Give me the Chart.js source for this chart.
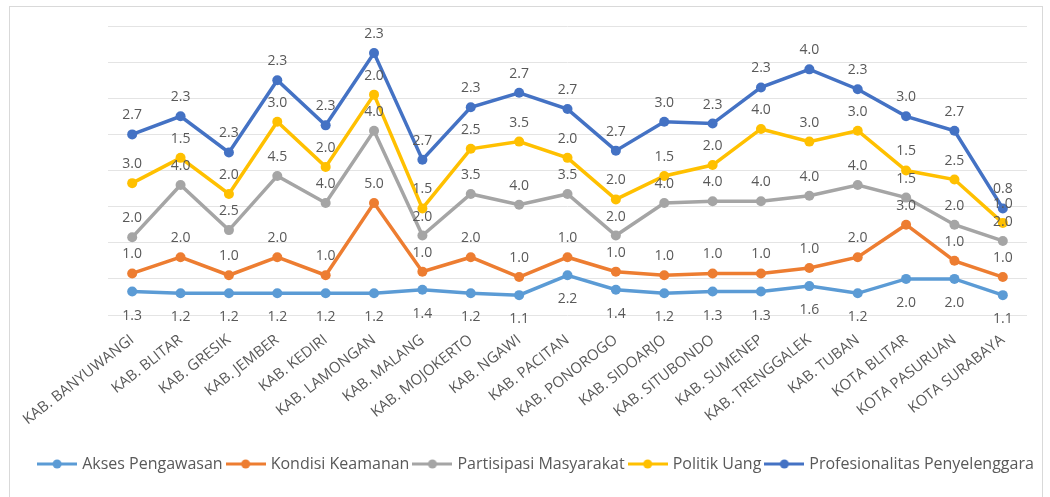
<!DOCTYPE html>
<html>
<head>
<meta charset="utf-8">
<script src="https://cdn.jsdelivr.net/npm/chart.js@4"></script>
<style>
  html, body { margin: 0; padding: 0; background: #fff; overflow: hidden; }
  #wrap { position: relative; width: 1050px; height: 497px; }
  #frame { position: absolute; left: 9px; top: 6px; width: 1032px; height: 520px; border: 1px solid #d9d9d9; pointer-events: none; }
</style>
</head>
<body>
<div id="wrap">
  <canvas id="myChart" width="1050" height="497"></canvas>
  <div id="frame"></div>
</div>
<script>
const categories = ['KAB. BANYUWANGI', 'KAB. BLITAR', 'KAB. GRESIK', 'KAB. JEMBER', 'KAB. KEDIRI', 'KAB. LAMONGAN',
    'KAB. MALANG', 'KAB. MOJOKERTO', 'KAB. NGAWI', 'KAB. PACITAN', 'KAB. PONOROGO', 'KAB. SIDOARJO',
    'KAB. SITUBONDO', 'KAB. SUMENEP', 'KAB. TRENGGALEK', 'KAB. TUBAN', 'KOTA BLITAR', 'KOTA PASURUAN', 'KOTA SURABAYA'];

const aksesPengawasan = [1.3, 1.2, 1.2, 1.2, 1.2, 1.2, 1.4, 1.2, 1.1, 2.2, 1.4, 1.2, 1.3, 1.3, 1.6, 1.2, 2.0, 2.0, 1.1];
const kondisiKeamanan = [1.0, 2.0, 1.0, 2.0, 1.0, 5.0, 1.0, 2.0, 1.0, 1.0, 1.0, 1.0, 1.0, 1.0, 1.0, 2.0, 3.0, 1.0, 1.0];
const partisipasiMasyarakat = [2.0, 4.0, 2.5, 4.5, 4.0, 4.0, 2.0, 3.5, 4.0, 3.5, 2.0, 4.0, 4.0, 4.0, 4.0, 4.0, 1.5, 2.0, 2.0];
const politikUang = [3.0, 1.5, 2.0, 3.0, 2.0, 2.0, 1.5, 2.5, 3.5, 2.0, 2.0, 1.5, 2.0, 4.0, 3.0, 3.0, 1.5, 2.5, 1.0];
const profesionalitas = [2.7, 2.3, 2.3, 2.3, 2.3, 2.3, 2.7, 2.3, 2.7, 2.7, 2.7, 3.0, 2.3, 2.3, 4.0, 2.3, 3.0, 2.7, 0.8];

const seriesNames = ['Akses Pengawasan', 'Kondisi Keamanan', 'Partisipasi Masyarakat', 'Politik Uang', 'Profesionalitas Penyelenggara'];
const seriesColors = ['#5B9BD5', '#ED7D31', '#A5A5A5', '#FFC000', '#4472C4'];
const seriesData = [aksesPengawasan, kondisiKeamanan, partisipasiMasyarakat, politikUang, profesionalitas];

const textColor = '#595959';
const fontFamily = '"Open Sans", "DejaVu Sans", sans-serif';

// legend marker: line with a dot in the middle
function legendMarker(color) {
    const c = document.createElement('canvas');
    c.width = 40;
    c.height = 12;
    const g = c.getContext('2d');
    g.strokeStyle = color;
    g.lineWidth = 3;
    g.beginPath();
    g.moveTo(0, 6);
    g.lineTo(40, 6);
    g.stroke();
    g.fillStyle = color;
    g.beginPath();
    g.arc(20, 6, 4.5, 0, Math.PI * 2);
    g.fill();
    return c;
}
const markers = seriesColors.map(legendMarker);

// value labels: first series below its point, the rest above
const valueLabels = {
    id: 'valueLabels',
    afterDatasetsDraw(chart) {
        const ctx = chart.ctx;
        ctx.save();
        ctx.font = '14px ' + fontFamily;
        ctx.fillStyle = textColor;
        ctx.textAlign = 'center';
        ctx.textBaseline = 'middle';
        chart.data.datasets.forEach((ds, i) => {
            chart.getDatasetMeta(i).data.forEach((pt, j) => {
                const dy = i === 0 ? 24 : -19;
                ctx.fillText(ds.data[j].toFixed(1), pt.x, pt.y + dy);
            });
        });
        ctx.restore();
    }
};

const ctx = document.getElementById('myChart').getContext('2d');
const myChart = new Chart(ctx, {
    type: 'line',
    data: {
        labels: categories,
        datasets: seriesData.map((d, i) => ({
            label: seriesNames[i],
            data: d,
            yAxisID: 'y',
            borderColor: seriesColors[i],
            backgroundColor: seriesColors[i],
            borderWidth: 3.5,
            pointRadius: 5,
            pointHoverRadius: 5,
            pointBorderWidth: 0,
            fill: false,
            tension: 0
        }))
    },
    options: {
        responsive: false,
        animation: false,
        layout: {
            padding: {left: 24, right: 0, top: 26, bottom: 15}
        },
        scales: {
            x: {
                offset: true,
                grid: {display: false},
                border: {display: false},
                ticks: {
                    autoSkip: false,
                    maxRotation: 38,
                    minRotation: 38,
                    padding: 8,
                    color: textColor,
                    font: {family: fontFamily, size: 15}
                },
                afterFit: (scale) => { scale.height = 135; }
            },
            y: {
                stacked: true,
                min: 0,
                max: 16,
                ticks: {display: false, stepSize: 2},
                border: {display: false},
                grid: {color: '#e4e4e4', lineWidth: 1, drawTicks: false},
                afterFit: (scale) => { scale.width = 84; }
            },
            yRight: {
                position: 'right',
                min: 0,
                max: 16,
                ticks: {display: false},
                border: {display: false},
                grid: {display: false},
                afterFit: (scale) => { scale.width = 23; }
            }
        },
        plugins: {
            tooltip: {enabled: false},
            legend: {
                position: 'bottom',
                labels: {
                    usePointStyle: true,
                    pointStyleWidth: 34,
                    padding: 6,
                    color: textColor,
                    font: {family: fontFamily, size: 16},
                    generateLabels: (chart) => {
                        const items = Chart.defaults.plugins.legend.labels.generateLabels(chart);
                        items.forEach((it, i) => { it.pointStyle = markers[i]; });
                        return items;
                    }
                }
            }
        }
    },
    plugins: [valueLabels]
});
</script>
</body>
</html>
